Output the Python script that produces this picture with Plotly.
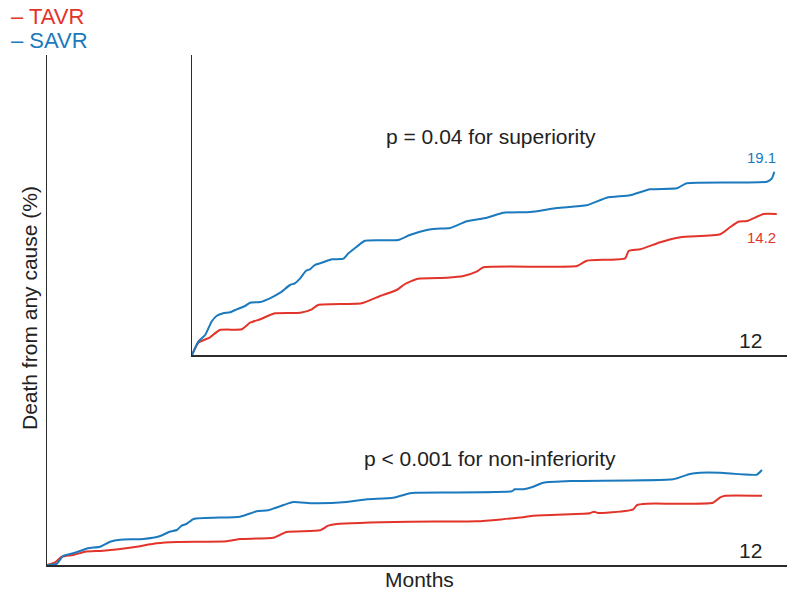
import plotly.graph_objects as go

# ---------------- data (months, % death) ----------------
# main panel (0-100 % scale)
main_months_savr = [0, 0.16, 0.27, 0.44, 0.69, 0.89, 1.06, 1.23, 1.62, 1.90, 2.06, 2.18, 2.26, 2.34, 2.46,
                    3.24, 3.52, 3.71, 3.97, 4.13, 4.47, 5.03, 5.37, 5.81, 6.09, 6.18, 7.80, 7.85, 7.99,
                    8.16, 8.33, 8.83, 10.51, 10.79, 10.96, 11.30, 11.91, 12.0]
main_savr = [0, 0.2, 1.76, 2.29, 3.27, 3.59, 4.57, 4.96, 5.10, 5.69, 6.53, 6.86, 7.71, 8.04, 9.02,
             9.47, 10.53, 10.73, 11.76, 12.35, 12.1, 12.35, 12.88, 13.2, 14.06, 14.18, 14.45, 14.84, 14.84,
             15.35, 16.14, 16.47, 16.8, 17.84, 18.1, 18.1, 17.71, 18.63]
main_months_tavr = [0, 0.13, 0.25, 0.44, 0.64, 0.94, 1.45, 1.84, 2.18, 3.02, 3.24, 3.80, 4.02, 4.58, 4.72,
                    4.86, 6.09, 7.21, 7.99, 8.16, 9.11, 9.18, 9.25, 9.39, 9.84, 9.90, 10.07, 11.18, 11.30,
                    11.38, 12.0]
main_tavr = [0, 0.45, 1.63, 1.96, 2.61, 2.80, 3.47, 4.25, 4.51, 4.65, 5.10, 5.35, 6.47, 6.80, 7.71,
             8.04, 8.49, 8.57, 9.35, 9.67, 10.14, 10.45, 10.2, 10.25, 10.92, 11.76, 12.02, 12.22, 13.27,
             13.59, 13.59]

# inset panel (0-30 % scale)
inset_months_savr = [0, 0.13, 0.27, 0.40, 0.51, 0.64, 0.78, 0.92, 1.09, 1.19, 1.40, 1.60, 1.81, 2.01, 2.11,
                     2.22, 2.34, 2.42, 2.52, 2.69, 2.87, 3.11, 3.21, 3.38, 3.55, 4.23, 4.47, 4.82, 5.02,
                     5.30, 5.64, 6.05, 6.39, 6.94, 7.49, 8.10, 8.51, 8.99, 9.40, 9.95, 10.15, 11.80,
                     11.90, 11.95]
inset_savr = [0, 1.33, 2.0, 3.33, 3.93, 4.17, 4.27, 4.57, 4.9, 5.23, 5.3, 5.67, 6.23, 7.0, 7.17,
              7.67, 8.43, 8.57, 9.0, 9.27, 9.57, 9.63, 10.17, 10.83, 11.43, 11.5, 12.0, 12.5, 12.63,
              12.7, 13.37, 13.73, 14.23, 14.3, 14.7, 14.97, 15.73, 15.97, 16.57, 16.67, 17.17, 17.33,
              17.67, 18.33]
inset_months_tavr = [0, 0.13, 0.37, 0.57, 1.02, 1.19, 1.40, 1.70, 2.22, 2.46, 2.59, 3.48, 3.86, 4.20, 4.37,
                     4.64, 5.23, 5.57, 5.84, 5.98, 7.90, 8.10, 8.89, 8.96, 9.20, 9.61, 10.02, 10.84,
                     11.04, 11.21, 11.39, 11.73, 12.0]
inset_tavr = [0, 1.23, 1.77, 2.5, 2.57, 3.23, 3.57, 4.17, 4.23, 4.57, 5.0, 5.17, 5.9, 6.5, 7.1,
              7.63, 7.73, 7.9, 8.33, 8.77, 8.9, 9.43, 9.67, 10.4, 10.57, 11.27, 11.77, 12.07,
              12.77, 13.33, 13.4, 14.1, 14.1]

final_savr_label = "19.1"
final_tavr_label = "14.2"
series_names = ["TAVR", "SAVR"]

# ---------------- style ----------------
RED = "#e2342b"
BLUE = "#1b79be"
AX = "#2b2b2b"
FONT = "Liberation Sans, Arial, Helvetica, sans-serif"
W, H = 787, 590

def px(xp):
    return xp / W

def py(yp):
    return 1 - yp / H

fig = go.Figure()
line_kw = dict(shape="spline", smoothing=0.5)
fig.add_trace(go.Scatter(x=main_months_tavr, y=main_tavr, mode="lines", name="TAVR",
                         line=dict(color=RED, width=2, **line_kw), xaxis="x", yaxis="y", showlegend=False))
fig.add_trace(go.Scatter(x=main_months_savr, y=main_savr, mode="lines", name="SAVR",
                         line=dict(color=BLUE, width=2, **line_kw), xaxis="x", yaxis="y", showlegend=False))
fig.add_trace(go.Scatter(x=inset_months_tavr, y=inset_tavr, mode="lines", name="TAVR",
                         line=dict(color=RED, width=2, **line_kw), xaxis="x2", yaxis="y2", showlegend=False))
fig.add_trace(go.Scatter(x=inset_months_savr, y=inset_savr, mode="lines", name="SAVR",
                         line=dict(color=BLUE, width=2, **line_kw), xaxis="x2", yaxis="y2", showlegend=False))

axis_common = dict(showgrid=False, zeroline=False, showticklabels=False, ticks="",
                   showline=True, linecolor=AX, linewidth=1.5, fixedrange=True)

fig.update_layout(
    width=W, height=H,
    margin=dict(l=0, r=0, t=0, b=0),
    paper_bgcolor="white", plot_bgcolor="rgba(0,0,0,0)",
    font=dict(family=FONT, color="#222"),
    xaxis=dict(domain=[px(47), 1], range=[0, 12.42], **axis_common),
    yaxis=dict(domain=[py(565), py(55)], range=[0, 100], **axis_common),
    xaxis2=dict(domain=[px(192), 1], range=[0, 12.21], anchor="y2", **axis_common),
    yaxis2=dict(domain=[py(355), py(55)], range=[0, 30], anchor="x2", **axis_common),
)

ann = []
def add_text(text, x, y, size, color="#222", xanchor="center", yanchor="middle", angle=0):
    ann.append(dict(text=text, x=px(x), y=py(y), xref="paper", yref="paper", showarrow=False,
                    xanchor=xanchor, yanchor=yanchor, textangle=angle,
                    font=dict(size=size, color=color, family=FONT)))

add_text("– " + series_names[0], 9, 17, 22, RED, xanchor="left")
add_text("– " + series_names[1], 9, 40, 22, BLUE, xanchor="left")
add_text("p = 0.04 for superiority", 491, 136, 21)
add_text("p < 0.001 for non-inferiority", 490, 458, 21)
add_text(final_savr_label, 761, 157, 15, BLUE)
add_text(final_tavr_label, 761, 237, 15, RED)
add_text("12", 750, 340, 21)
add_text("12", 750, 550, 21)
add_text("Months", 419, 579, 21)
add_text("Death from any cause (%)", 29, 308, 21, angle=-90)
fig.update_layout(annotations=ann)

fig.write_html("out.html", config={"displayModeBar": False, "staticPlot": True},
               post_script="document.body.style.margin='0';document.body.style.overflow='hidden';")
